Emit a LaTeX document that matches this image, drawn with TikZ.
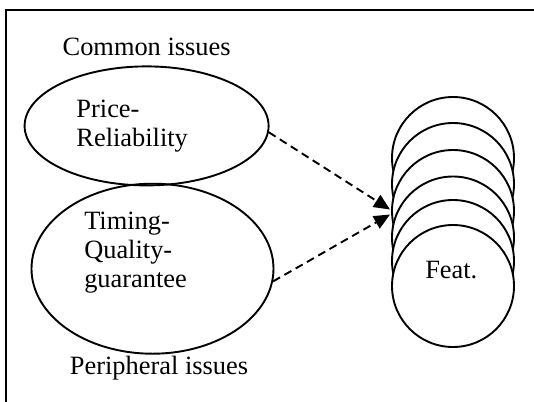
\documentclass[tikz,border=0pt]{standalone}
\usepackage{fontspec}
\setmainfont{Liberation Serif}
\usetikzlibrary{shapes.geometric,arrows.meta}

\begin{document}
\begin{tikzpicture}[x=1pt, y=-1pt, line width=1.9pt, >={Triangle[length=16pt,width=14pt]},
    issue/.style={ellipse, draw=black, inner sep=0pt},
    featc/.style={circle, draw=black, fill=white, minimum size=122pt, inner sep=0pt},
    txt/.style={font=\fontsize{26.4}{29}\selectfont, align=left, inner sep=0pt},
    link/.style={->, dash pattern=on 8pt off 5pt}]
    \useasboundingbox (0,0) rectangle (534,401);
    \draw (6,420) -- (6,10) -- (560,10);

    % issue groups
    \node[issue, minimum width=244pt, minimum height=119pt] (price) at (146.6,125.9) {};
    \node[issue, minimum width=242pt, minimum height=170pt] (timing) at (152.5,268.7) {};
    \node[txt, anchor=base west] (common) at (61.7,56) {Common issues};
    \node[txt, anchor=base west] (pricetxt) at (75.5,146) {Price-\\Reliability};
    \node[txt, anchor=base west] (timingtxt) at (83.3,287.3) {Timing-\\Quality-\\guarantee};
    \node[txt, anchor=base west] (periph) at (69,374) {Peripheral issues};

    % stacked features
    \foreach \y [count=\i] in {158,184,211,237.5,261,286}
        \node[featc] (f\i) at (453,\y) {};
    \node[txt, anchor=base] (feat) at (451.3,278.3) {Feat.};

    \coordinate (tip1) at (390,209.5);
    \coordinate (tip2) at (390,214.5);
    \path (price.-3) edge[link] (tip1)
        (timing.-6) edge[link] (tip2);
\end{tikzpicture}
\end{document}
